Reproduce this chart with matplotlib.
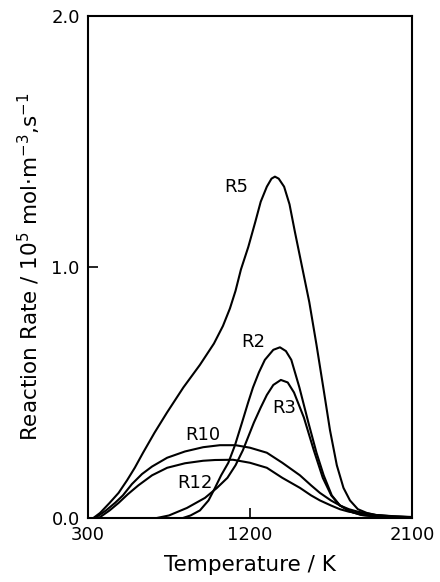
from matplotlib import pyplot as plt

# Reaction rates (T in K, rate in 10^5 mol m^-3 s^-1)
T_R5 = [330, 367, 420, 470, 517, 560, 606, 670, 739, 830, 922, 1000, 1050, 1089,
        1120, 1150, 1191, 1230, 1260, 1294, 1320, 1339, 1360, 1390, 1420, 1450,
        1490, 1530, 1570, 1610, 1645, 1683, 1720, 1756, 1800, 1850, 1900, 2000, 2100]
R5 = [0.0, 0.02, 0.06, 0.10, 0.15, 0.20, 0.26, 0.34, 0.42, 0.52, 0.61, 0.695, 0.765,
      0.835, 0.905, 0.99, 1.08, 1.18, 1.26, 1.32, 1.352, 1.36, 1.352, 1.32, 1.25,
      1.14, 1.0, 0.86, 0.69, 0.51, 0.35, 0.21, 0.12, 0.07, 0.035, 0.02, 0.012,
      0.006, 0.003]

T_R2 = [828, 870, 922, 970, 1006, 1040, 1080, 1117, 1156, 1190, 1217, 1250, 1283,
        1330, 1367, 1400, 1430, 1475, 1525, 1570, 1610, 1655, 1700, 1760, 1820,
        1900, 2000, 2100]
R2 = [0.0, 0.01, 0.03, 0.07, 0.12, 0.17, 0.22, 0.29, 0.38, 0.46, 0.52, 0.58, 0.63,
      0.67, 0.68, 0.665, 0.63, 0.52, 0.38, 0.26, 0.17, 0.09, 0.05, 0.025, 0.012,
      0.006, 0.003, 0.002]

T_R3 = [683, 750, 850, 950, 1017, 1075, 1120, 1161, 1222, 1260, 1294, 1330, 1372,
        1410, 1445, 1500, 1555, 1605, 1652, 1700, 1760, 1820, 1900, 2000, 2100]
R3 = [0.0, 0.01, 0.04, 0.08, 0.12, 0.16, 0.21, 0.27, 0.38, 0.44, 0.49, 0.53, 0.55,
      0.54, 0.50, 0.40, 0.27, 0.16, 0.09, 0.05, 0.025, 0.012, 0.006, 0.003, 0.002]

T_R10 = [340, 400, 450, 494, 544, 600, 656, 740, 839, 940, 1033, 1120, 1200, 1294,
         1380, 1478, 1540, 1589, 1650, 1700, 1750, 1800, 1900, 2000, 2100]
R10 = [0.0, 0.03, 0.06, 0.09, 0.135, 0.175, 0.205, 0.24, 0.265, 0.282, 0.29, 0.29,
       0.28, 0.26, 0.22, 0.17, 0.13, 0.10, 0.07, 0.05, 0.035, 0.025, 0.012, 0.007,
       0.004]

T_R12 = [360, 420, 470, 522, 580, 656, 740, 839, 940, 1006, 1106, 1200, 1294, 1380,
         1478, 1540, 1589, 1650, 1700, 1750, 1800, 1900, 2000, 2100]
R12 = [0.0, 0.03, 0.06, 0.095, 0.13, 0.17, 0.20, 0.218, 0.228, 0.231, 0.232, 0.22,
       0.20, 0.16, 0.12, 0.09, 0.07, 0.05, 0.035, 0.025, 0.02, 0.01, 0.005, 0.003]

series = [(T_R5, R5), (T_R2, R2), (T_R3, R3), (T_R10, R10), (T_R12, R12)]

# label name, anchor temperature, anchor rate
labels = ["R5", "R2", "R3", "R10", "R12"]
label_T = [1055, 1150, 1322, 839, 794]
label_R = [1.32, 0.70, 0.44, 0.33, 0.14]

plt.rcParams['font.family'] = 'DejaVu Sans'

fig = plt.figure(figsize=(4.4, 5.82), dpi=100)
ax = fig.add_axes([0.2, 0.11, 0.736, 0.8625])

for T, R in series:
    ax.plot(T, R, color="black", lw=1.5)

for name, t, r in zip(labels, label_T, label_R):
    ax.text(t, r, name, fontsize=13, ha="left", va="center")

ax.set_xlim(300, 2100)
ax.set_ylim(0, 2.0)
ax.set_xticks([300, 1200, 2100])
ax.set_yticks([0.0, 1.0, 2.0])
ax.set_yticklabels(["0.0", "1.0", "2.0"])
ax.tick_params(direction="in", length=7, width=1.2, labelsize=13, pad=6)
for s in ax.spines.values():
    s.set_linewidth(1.5)

ax.set_xlabel("Temperature / K", fontsize=15.5, labelpad=8)
ax.set_ylabel(r"Reaction Rate / 10$^{5}$ mol$\cdot$m$^{-3}$,s$^{-1}$", fontsize=15.5, labelpad=6)

plt.savefig("out.png", dpi=100)
